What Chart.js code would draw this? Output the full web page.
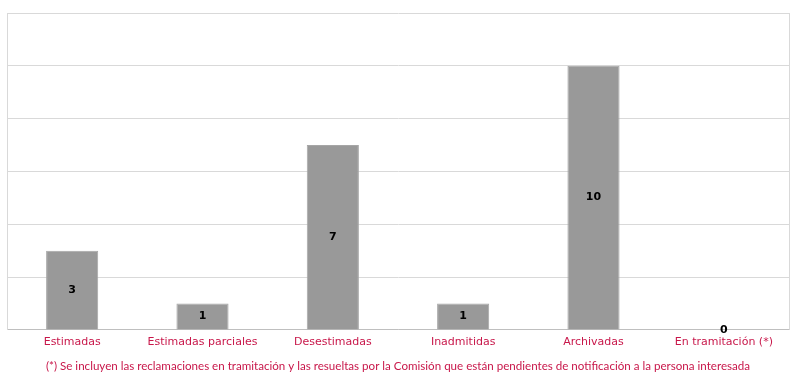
<!DOCTYPE html>
<html>
<head>
<meta charset="utf-8">
<script src="https://cdn.jsdelivr.net/npm/chart.js@4/dist/chart.umd.min.js"></script>
<style>
	body { margin: 0; background: #ffffff; }
	#wrap { width: 798px; height: 382px; }
</style>
</head>
<body>
<div id="wrap"><canvas id="chart" width="798" height="382"></canvas></div>
<script>
var categories = ['Estimadas', 'Estimadas parciales', 'Desestimadas', 'Inadmitidas', 'Archivadas', 'En tramitación (*)'];
var values = [3, 1, 7, 1, 10, 0];
var footnote = '(*) Se incluyen las reclamaciones en tramitación y las resueltas por la Comisión que están pendientes de notificación a la persona interesada';

var labelColor = '#c8174a';

// draws the value in the middle of every bar
var valueLabels = {
	id: 'valueLabels',
	afterDatasetsDraw: function(chart)
	{
		var ctx = chart.ctx;
		var meta = chart.getDatasetMeta(0);
		ctx.save();
		ctx.font = 'bold 11px "DejaVu Sans"';
		ctx.fillStyle = '#000000';
		ctx.textAlign = 'center';
		ctx.textBaseline = 'middle';
		for(var i = 0; i < meta.data.length; i++)
		{
			var bar = meta.data[i];
			var y = (bar.y + bar.base) / 2;
			ctx.fillText(values[i], bar.x, y);
		}
		ctx.restore();
	}
};

var createdChart = new Chart(document.getElementById('chart'), {
	type: 'bar',
	data: {
		labels: categories,
		datasets: [{
			data: values,
			backgroundColor: '#999999',
			borderColor: '#a6a6a6',
			borderWidth: 1,
			barPercentage: 0.4,
			categoryPercentage: 1
		}]
	},
	options: {
		responsive: false,
		maintainAspectRatio: false,
		animation: false,
		layout: {
			padding: { left: 7, right: 9, top: 13, bottom: 0 }
		},
		plugins: {
			legend: { display: false },
			tooltip: { enabled: false },
			title: {
				display: true,
				position: 'bottom',
				text: footnote,
				color: labelColor,
				font: { family: 'Lato', size: 11.6, weight: 'normal' },
				padding: { top: 4, bottom: 9 }
			}
		},
		scales: {
			x: {
				grid: { display: false, drawTicks: false },
				border: { display: true, color: '#bfbfbf', width: 1 },
				ticks: {
					color: labelColor,
					font: { family: 'DejaVu Sans', size: 11 },
					padding: 6,
					maxRotation: 0,
					autoSkip: false
				}
			},
			y: {
				min: 0,
				max: 12,
				ticks: { display: false, stepSize: 2 },
				grid: { color: '#d9d9d9', lineWidth: 1, drawTicks: false },
				border: { display: true, color: '#d9d9d9' }
			}
		}
	},
	plugins: [valueLabels, {
		id: 'rightBorder',
		afterDraw: function(chart)
		{
			var a = chart.chartArea;
			var ctx = chart.ctx;
			ctx.save();
			ctx.strokeStyle = '#d9d9d9';
			ctx.lineWidth = 1;
			ctx.beginPath();
			ctx.moveTo(Math.round(a.right) + 0.5, a.top);
			ctx.lineTo(Math.round(a.right) + 0.5, a.bottom);
			ctx.stroke();
			ctx.restore();
		}
	}]
});
</script>
</body>
</html>
